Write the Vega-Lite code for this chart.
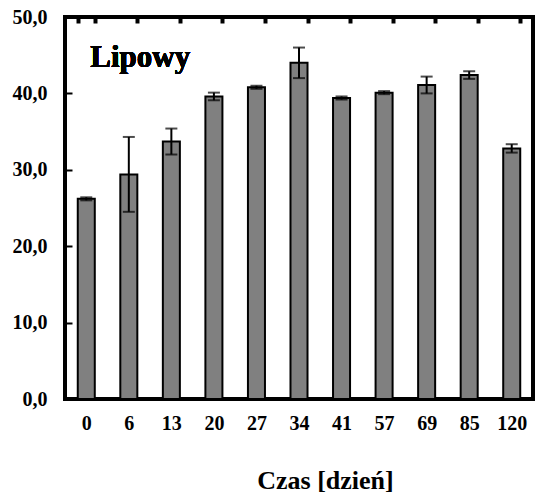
{
  "$schema": "https://vega.github.io/schema/vega-lite/v6.json",
  "width": 468,
  "height": 382,
  "autosize": "none",
  "padding": {"left": 65, "top": 17, "right": 2, "bottom": 98},
  "background": "white",
  "config": {
    "view": {"stroke": "black", "strokeWidth": 4},
    "font": "Liberation Serif",
    "axis": {"zindex": 1}
  },
  "data": {
    "values": [
      {"day": "0", "value": 26.2, "err": 0.2},
      {"day": "6", "value": 29.4, "err": 4.9},
      {"day": "13", "value": 33.7, "err": 1.7},
      {"day": "20", "value": 39.6, "err": 0.5},
      {"day": "27", "value": 40.8, "err": 0.2},
      {"day": "34", "value": 44.0, "err": 2.0},
      {"day": "41", "value": 39.4, "err": 0.2},
      {"day": "57", "value": 40.1, "err": 0.2},
      {"day": "69", "value": 41.1, "err": 1.1},
      {"day": "85", "value": 42.4, "err": 0.5},
      {"day": "120", "value": 32.8, "err": 0.55}
    ]
  },
  "encoding": {
    "x": {
      "field": "day",
      "type": "nominal",
      "sort": null,
      "scale": {"paddingInner": 0.6, "paddingOuter": 0.3},
      "axis": {
        "title": "Czas [dzień]",
        "titleFont": "Liberation Serif",
        "titleFontSize": 26,
        "titleFontWeight": "bold",
        "titleColor": "black",
        "titleX": 260,
        "titleY": 89,
        "titleBaseline": "alphabetic",
        "labelAngle": 0,
        "labelFont": "Liberation Serif",
        "labelFontSize": 20,
        "labelFontWeight": "bold",
        "labelColor": "black",
        "labelPadding": 14,
        "domain": false,
        "ticks": false,
        "tickBand": "extent",
        "grid": true,
        "gridColor": "black",
        "gridOpacity": 1,
        "gridWidth": 4,
        "gridDash": [6, 1000]
      }
    }
  },
  "layer": [
    {
      "mark": {"type": "bar", "fill": "#808080", "stroke": "black", "strokeWidth": 2},
      "encoding": {
        "y": {
          "field": "value",
          "type": "quantitative",
          "scale": {"domain": [0, 50], "nice": false},
          "axis": {
            "title": null,
            "values": [0, 10, 20, 30, 40, 50],
            "labelExpr": "replace(format(datum.value, '.1f'), '.', ',')",
            "labelFont": "Liberation Serif",
            "labelFontSize": 20,
            "labelFontWeight": "bold",
            "labelColor": "black",
            "labelPadding": 18,
            "labelBaseline": "middle",
            "domain": false,
            "ticks": false,
            "grid": true,
            "gridColor": "black",
            "gridOpacity": 1,
            "gridWidth": 2,
            "gridDash": [7, 1000]
          }
        }
      }
    },
    {
      "mark": {
        "type": "errorbar",
        "ticks": {"size": 12, "thickness": 2, "color": "black"},
        "rule": {"strokeWidth": 2, "color": "black"}
      },
      "encoding": {
        "y": {"field": "value", "type": "quantitative"},
        "yError": {"field": "err"}
      }
    },
    {
      "mark": {
        "type": "text",
        "text": "Lipowy",
        "font": "Liberation Serif",
        "fontSize": 31,
        "fontWeight": "bold",
        "align": "left",
        "baseline": "alphabetic",
        "dx": 4,
        "color": "black"
      },
      "encoding": {
        "x": {"datum": "0"},
        "y": {"datum": 43.4}
      }
    }
  ]
}
